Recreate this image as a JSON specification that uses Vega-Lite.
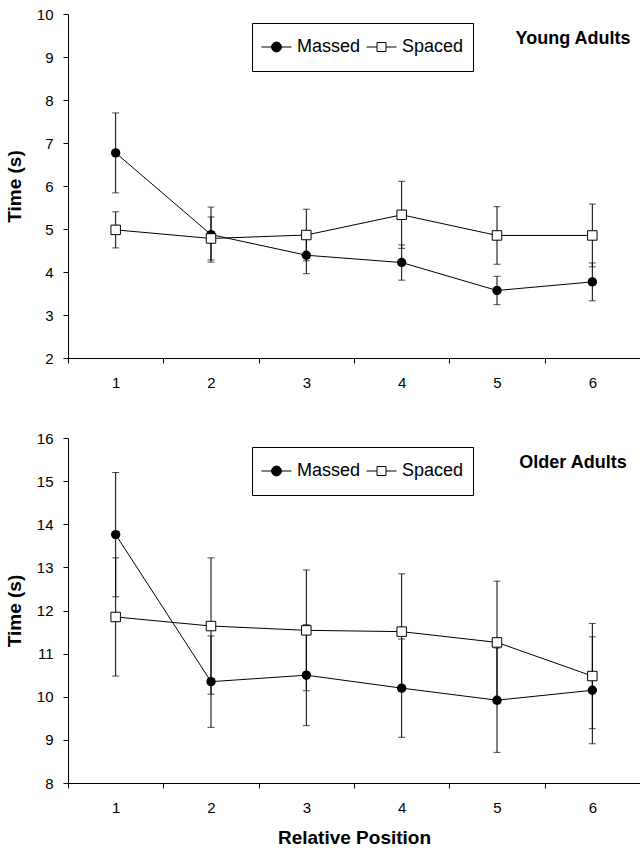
{
  "$schema": "https://vega.github.io/schema/vega-lite/v6.json",
  "padding": {"left": 5, "top": 7, "right": 0, "bottom": 0},
  "background": "white",
  "datasets": {
    "young": [
      {"pos": 1, "series": "Massed", "mean": 6.77, "se": 0.93},
      {"pos": 2, "series": "Massed", "mean": 4.87, "se": 0.64},
      {"pos": 3, "series": "Massed", "mean": 4.39, "se": 0.43},
      {"pos": 4, "series": "Massed", "mean": 4.22, "se": 0.41},
      {"pos": 5, "series": "Massed", "mean": 3.57, "se": 0.33},
      {"pos": 6, "series": "Massed", "mean": 3.77, "se": 0.44},
      {"pos": 1, "series": "Spaced", "mean": 4.98, "se": 0.42},
      {"pos": 2, "series": "Spaced", "mean": 4.78, "se": 0.5},
      {"pos": 3, "series": "Spaced", "mean": 4.86, "se": 0.6},
      {"pos": 4, "series": "Spaced", "mean": 5.33, "se": 0.78},
      {"pos": 5, "series": "Spaced", "mean": 4.85, "se": 0.67},
      {"pos": 6, "series": "Spaced", "mean": 4.85, "se": 0.73}
    ],
    "older": [
      {"pos": 1, "series": "Massed", "mean": 13.76, "se": 1.44},
      {"pos": 2, "series": "Massed", "mean": 10.35, "se": 1.06},
      {"pos": 3, "series": "Massed", "mean": 10.5, "se": 1.17},
      {"pos": 4, "series": "Massed", "mean": 10.2, "se": 1.14},
      {"pos": 5, "series": "Massed", "mean": 9.92, "se": 1.21},
      {"pos": 6, "series": "Massed", "mean": 10.15, "se": 1.24},
      {"pos": 1, "series": "Spaced", "mean": 11.85, "se": 1.37},
      {"pos": 2, "series": "Spaced", "mean": 11.64, "se": 1.58},
      {"pos": 3, "series": "Spaced", "mean": 11.54, "se": 1.4},
      {"pos": 4, "series": "Spaced", "mean": 11.51, "se": 1.34},
      {"pos": 5, "series": "Spaced", "mean": 11.26, "se": 1.42},
      {"pos": 6, "series": "Spaced", "mean": 10.48, "se": 1.22}
    ]
  },
  "config": {
    "view": {"stroke": null},
    "font": "Liberation Sans",
    "axis": {
      "grid": false,
      "domainColor": "black",
      "tickColor": "black",
      "tickSize": 5,
      "labelColor": "black",
      "labelFont": "Liberation Sans",
      "labelFontSize": 15,
      "titleColor": "black",
      "titleFont": "Liberation Sans",
      "titleFontSize": 19,
      "titleFontWeight": "bold"
    },
    "legend": {"orient": "none", "legendX": 184, "legendY": 9, "direction": "horizontal", "strokeColor": "black", "fillColor": "white", "padding": 9, "labelFontSize": 18, "labelFont": "Liberation Sans", "labelColor": "black", "labelOffset": 5, "columnPadding": 5, "clipHeight": 30, "symbolSize": 900, "symbolStrokeWidth": 1, "symbolStrokeColor": "black", "symbolOpacity": 1},
    "title": {"font": "Liberation Sans", "fontSize": 18, "fontWeight": "bold", "color": "black"}
  },
  "spacing": 41,
  "vconcat": [
    {
      "width": 572,
      "height": 344,
      "data": {"name": "young"},
      "title": {"text": "Young Adults", "anchor": "end", "align": "center", "dx": -67, "offset": -55, "frame": "group", "baseline": "alphabetic"},
      "encoding": {
        "x": {"field": "pos", "type": "ordinal", "scale": {"type": "band", "paddingInner": 0, "paddingOuter": 0},
              "axis": {"title": null, "labelAngle": 0, "tickBand": "extent", "labelPadding": 12}},
        "y": {"field": "mean", "type": "quantitative", "scale": {"domain": [2, 10], "nice": false, "zero": false},
              "axis": {"title": "Time (s)", "values": [2, 3, 4, 5, 6, 7, 8, 9, 10], "labelPadding": 10, "titlePadding": 12}}
      },
      "layer": [
        {"mark": {"type": "errorbar", "color": "black", "thickness": 1, "ticks": {"size": 7, "color": "black", "thickness": 1}},
         "encoding": {"yError": {"field": "se"}}},
        {"mark": {"type": "line", "color": "black", "strokeWidth": 1}, "encoding": {"detail": {"field": "series"}}},
        {"transform": [{"filter": "datum.series === 'Massed'"}],
         "mark": {"type": "point", "shape": "circle", "filled": true, "color": "black", "size": 88, "opacity": 1}},
        {"transform": [{"filter": "datum.series === 'Spaced'"}],
         "mark": {"type": "point", "shape": "square", "fill": "white", "stroke": "black", "strokeWidth": 1, "size": 90, "opacity": 1}},
        {"mark": {"type": "point", "opacity": 0, "strokeWidth": 1},
         "encoding": {
           "shape": {"field": "series", "type": "nominal", "title": null,
             "scale": {"domain": ["Massed", "Spaced"], "range": ["M-1,0H1M0.33,0A0.33,0.33,0,1,1,-0.33,0A0.33,0.33,0,1,1,0.33,0Z", "M-1,0H-0.3M0.3,0H1M-0.3,-0.3H0.3V0.3H-0.3Z"]}},
           "fill": {"field": "series", "type": "nominal", "title": null,
             "scale": {"domain": ["Massed", "Spaced"], "range": ["black", "white"]}},
           "stroke": {"field": "series", "type": "nominal", "title": null,
             "scale": {"domain": ["Massed", "Spaced"], "range": ["black", "black"]}}
         }}
      ]
    },
    {
      "width": 572,
      "height": 345,
      "data": {"name": "older"},
      "title": {"text": "Older Adults", "anchor": "end", "align": "center", "dx": -67, "offset": -55, "frame": "group", "baseline": "alphabetic"},
      "encoding": {
        "x": {"field": "pos", "type": "ordinal", "scale": {"type": "band", "paddingInner": 0, "paddingOuter": 0},
              "axis": {"title": "Relative Position", "labelAngle": 0, "tickBand": "extent", "labelPadding": 12, "titlePadding": 13}},
        "y": {"field": "mean", "type": "quantitative", "scale": {"domain": [8, 16], "nice": false, "zero": false},
              "axis": {"title": "Time (s)", "values": [8, 9, 10, 11, 12, 13, 14, 15, 16], "labelPadding": 10, "titlePadding": 12}}
      },
      "layer": [
        {"mark": {"type": "errorbar", "color": "black", "thickness": 1, "ticks": {"size": 7, "color": "black", "thickness": 1}},
         "encoding": {"yError": {"field": "se"}}},
        {"mark": {"type": "line", "color": "black", "strokeWidth": 1}, "encoding": {"detail": {"field": "series"}}},
        {"transform": [{"filter": "datum.series === 'Massed'"}],
         "mark": {"type": "point", "shape": "circle", "filled": true, "color": "black", "size": 88, "opacity": 1}},
        {"transform": [{"filter": "datum.series === 'Spaced'"}],
         "mark": {"type": "point", "shape": "square", "fill": "white", "stroke": "black", "strokeWidth": 1, "size": 90, "opacity": 1}},
        {"mark": {"type": "point", "opacity": 0, "strokeWidth": 1},
         "encoding": {
           "shape": {"field": "series", "type": "nominal", "title": null,
             "scale": {"domain": ["Massed", "Spaced"], "range": ["M-1,0H1M0.33,0A0.33,0.33,0,1,1,-0.33,0A0.33,0.33,0,1,1,0.33,0Z", "M-1,0H-0.3M0.3,0H1M-0.3,-0.3H0.3V0.3H-0.3Z"]}},
           "fill": {"field": "series", "type": "nominal", "title": null,
             "scale": {"domain": ["Massed", "Spaced"], "range": ["black", "white"]}},
           "stroke": {"field": "series", "type": "nominal", "title": null,
             "scale": {"domain": ["Massed", "Spaced"], "range": ["black", "black"]}}
         }}
      ]
    }
  ],
  "resolve": {"scale": {"shape": "independent", "fill": "independent", "stroke": "independent"}, "legend": {"shape": "independent", "fill": "independent", "stroke": "independent"}}
}
